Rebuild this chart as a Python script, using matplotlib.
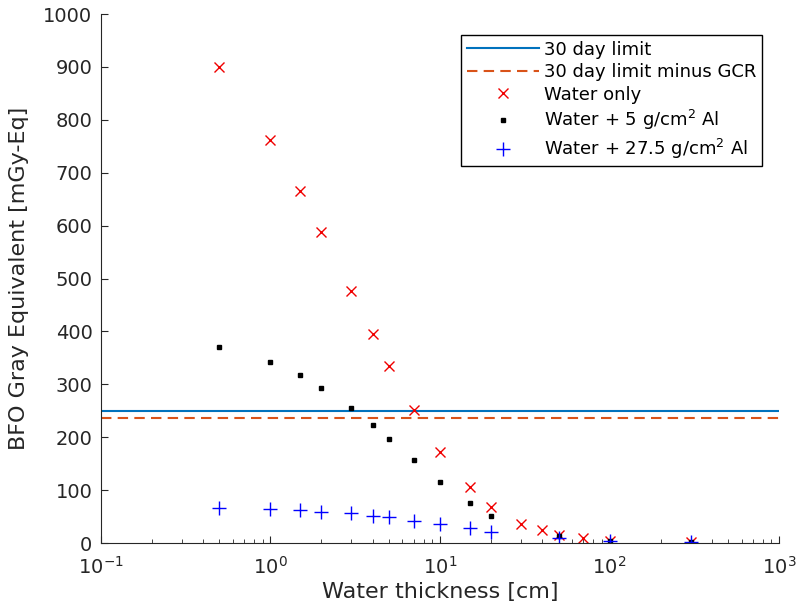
import numpy as np
import matplotlib.pyplot as plt

# water thickness [cm]
thick = [0.5, 1, 1.5, 2, 3, 4, 5, 7, 10, 15, 20, 30, 40, 50, 70, 100, 300]
water_only = [900, 762, 665, 588, 476, 395, 335, 251, 173, 105, 69, 36, 25, 16, 9, 4, 1]

thick_al = [0.5, 1, 1.5, 2, 3, 4, 5, 7, 10, 15, 20, 50, 100, 300]
water_al5 = [371, 342, 317, 294, 255, 223, 197, 157, 116, 75, 52, 14, 4, 1]
water_al27 = [66, 64, 62, 59, 56, 52, 49, 42, 36, 28, 21, 9, 3, 1]

limit_30 = 250
limit_30_gcr = 237

plt.rcParams['font.family'] = ['DejaVu Sans']
fig = plt.figure(figsize=(8, 6.12), dpi=100)
ax = fig.add_axes([0.126, 0.1127, 0.848, 0.8643])

ax.axhline(limit_30, color="#0072BD", lw=1.5, label="30 day limit")
ax.axhline(limit_30_gcr, color="#D95319", lw=1.5, ls=(0, (5, 3)), label="30 day limit minus GCR")
ax.plot(thick, water_only, ls="none", marker="x", color="#f00000", ms=7, mew=1, label="Water only")
ax.plot(thick_al, water_al5, ls="none", marker="s", color="black", ms=2.5, label="Water + 5 g/cm$^2$ Al")
ax.plot(thick_al, water_al27, ls="none", marker="+", color="#0000ff", ms=10, mew=1, label="Water + 27.5 g/cm$^2$ Al")

ax.set_xscale("log")
ax.set_xlim(0.1, 1000)
ax.set_ylim(0, 1000)
ax.set_yticks(np.arange(0, 1001, 100))
ax.spines["top"].set_visible(False)
ax.spines["right"].set_visible(False)
for s in ["left", "bottom"]:
    ax.spines[s].set_color("#262626")
ax.tick_params(direction="in", which="both", labelsize=14, colors="#262626")
ax.tick_params(which="major", length=5)
ax.tick_params(which="minor", length=3)
ax.tick_params(axis="y", pad=6)
ax.tick_params(axis="x", pad=9)

ax.set_xlabel("Water thickness [cm]", fontsize=16, color="#262626", labelpad=3)
ax.set_ylabel("BFO Gray Equivalent [mGy-Eq]", fontsize=16, color="#262626", labelpad=10)

leg = ax.legend(loc="upper right", bbox_to_anchor=(0.975, 0.96), borderaxespad=0,
                fontsize=13, fancybox=False, edgecolor="black", framealpha=1,
                borderpad=0.3, labelspacing=0.25, handlelength=4, handletextpad=0.3)
leg.get_frame().set_linewidth(1)

plt.savefig("out.png", dpi=100)
